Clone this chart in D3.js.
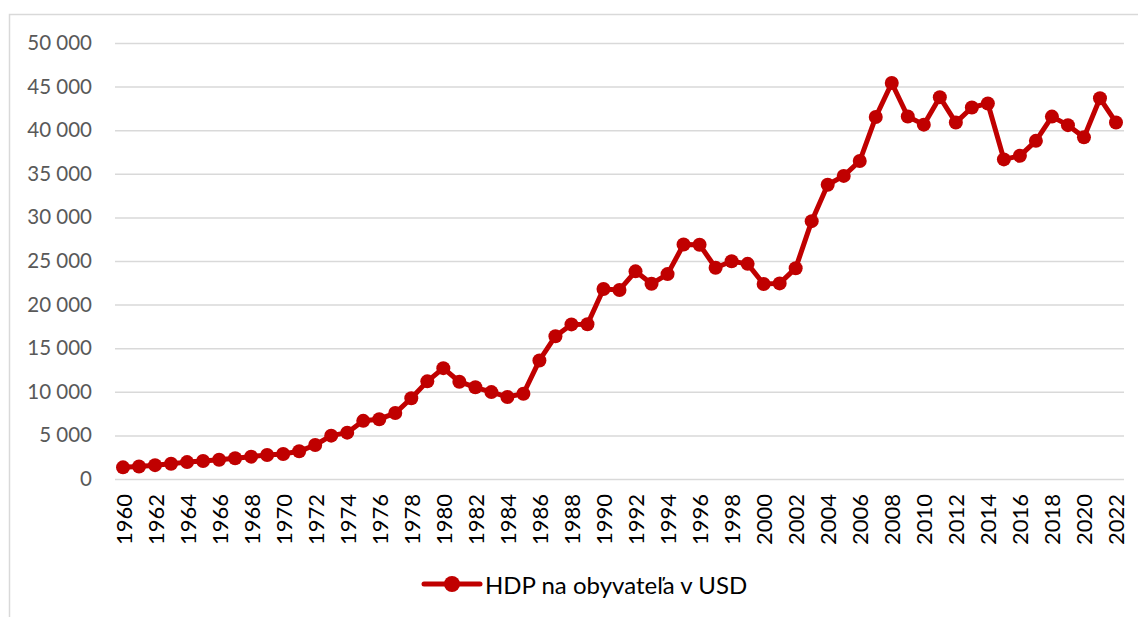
<!DOCTYPE html>
<html>
<head>
<meta charset="utf-8">
<script src="https://cdn.jsdelivr.net/npm/d3@7"></script>
<style>
  body { margin: 0; background: #fff; }
  svg { display: block; }
</style>
</head>
<body>
<svg id="chart" width="1138" height="617"></svg>
<script>
// years and GDP per capita (USD)
var years = d3.range(1960, 2023);
var gdp = [
  1338, 1439, 1589, 1757, 1936, 2058, 2212, 2376, 2564, 2753,
  2870, 3174, 3897, 4974, 5315, 6669, 6859, 7562, 9258, 11198,
  12713, 11154, 10518, 9968, 9410, 9778, 13598, 16377, 17727, 17746,
  21795, 21676, 23814, 22389, 23496, 26890, 26872, 24229, 24974, 24674,
  22364, 22434, 24177, 29568, 33741, 34760, 36470, 41508, 45413, 41575,
  40638, 43791, 40875, 42603, 43069, 36653, 37063, 38781, 41558, 40579,
  39180, 43659, 40886
];
var yTicks = d3.range(0, 50001, 5000);
var xTickYears = years.filter(function(y) { return y % 2 === 0; });
var seriesName = 'HDP na obyvateľa v USD';

var red = '#c00000';
var svg = d3.select('#chart');

// chart frame (runs off the right and bottom edge)
svg.append('rect')
  .attr('x', 9.5).attr('y', 14.5)
  .attr('width', 1200).attr('height', 700)
  .attr('fill', '#fff')
  .attr('stroke', '#d9d9d9')
  .attr('stroke-width', 1.5);

var x = d3.scaleBand().domain(years).range([115, 1124]).padding(0);
var y = d3.scaleLinear().domain([0, 50000]).range([479, 43]);

var fmt = d3.formatLocale({ decimal: ',', thousands: ' ', grouping: [3], currency: ['', ''] }).format(',');

// gridlines
var grid = svg.append('g')
  .attr('transform', 'translate(115,0)')
  .call(d3.axisLeft(y).tickValues(yTicks).tickSize(-(1124 - 115)).tickFormat(''));
grid.select('.domain').remove();
grid.selectAll('line').attr('stroke', '#d9d9d9').attr('stroke-width', 1.5);

// y labels
var yAxis = svg.append('g')
  .attr('transform', 'translate(92,0)')
  .call(d3.axisLeft(y).tickValues(yTicks).tickSize(0).tickPadding(0).tickFormat(fmt));
yAxis.select('.domain').remove();
yAxis.selectAll('text')
  .attr('fill', '#595959')
  .style('font-family', 'Lato, sans-serif')
  .style('font-size', '20.5px');

// x labels, rotated
var xAxis = svg.append('g')
  .attr('transform', 'translate(0,479)')
  .call(d3.axisBottom(x).tickValues(xTickYears).tickSize(0).tickPadding(0));
xAxis.select('.domain').remove();
xAxis.selectAll('text')
  .attr('fill', '#000')
  .attr('y', 0)
  .attr('dy', 0)
  .attr('text-anchor', 'end')
  .attr('dominant-baseline', 'central')
  .attr('transform', 'translate(0,15) rotate(-90)')
  .style('font-family', 'Lato, sans-serif')
  .style('font-size', '22px');

// series
var cx = function(d, i) { return x(years[i]) + x.bandwidth() / 2; };
var line = d3.line()
  .x(cx)
  .y(function(d) { return y(d); });

svg.append('path')
  .datum(gdp)
  .attr('fill', 'none')
  .attr('stroke', red)
  .attr('stroke-width', 5)
  .attr('stroke-linejoin', 'round')
  .attr('d', line);

svg.append('g').selectAll('circle')
  .data(gdp)
  .enter()
  .append('circle')
  .attr('cx', cx)
  .attr('cy', function(d) { return y(d); })
  .attr('r', 7)
  .attr('fill', red);

// legend
var lg = svg.append('g').attr('transform', 'translate(424,584)');
lg.append('line')
  .attr('x1', 0).attr('x2', 56)
  .attr('stroke', red).attr('stroke-width', 5).attr('stroke-linecap', 'round');
lg.append('circle').attr('cx', 28).attr('r', 8).attr('fill', red);
lg.append('text')
  .attr('x', 61)
  .attr('dominant-baseline', 'central')
  .attr('fill', '#000')
  .style('font-family', 'Lato, sans-serif')
  .style('font-size', '24px')
  .text(seriesName);
</script>
</body>
</html>
